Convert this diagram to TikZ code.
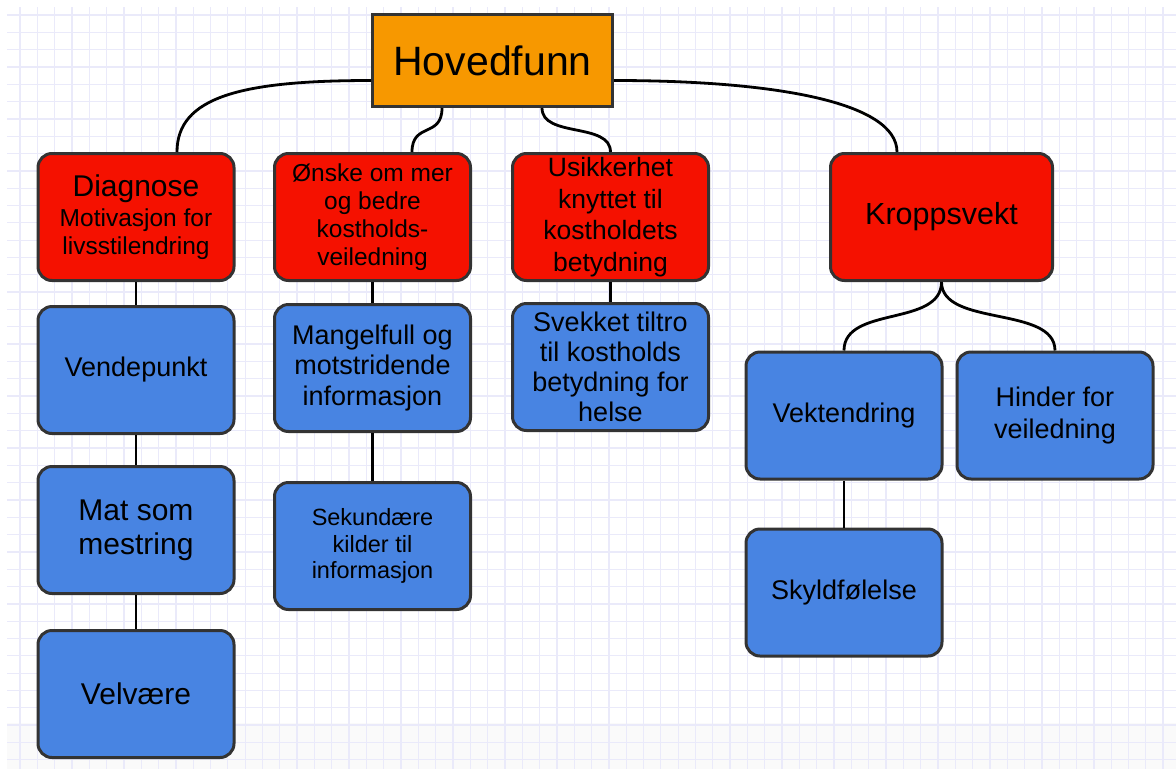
\documentclass[tikz,border=0pt]{standalone}
\usepackage{fontspec}
\setmainfont{Liberation Sans}
\usetikzlibrary{positioning}

\definecolor{hovedorange}{RGB}{247,152,0}
\definecolor{temarod}{RGB}{245,17,0}
\definecolor{funnbla}{RGB}{72,132,226}
\definecolor{kant}{RGB}{51,51,51}
\definecolor{rutenett}{RGB}{234,234,250}
\newcommand{\tsz}[2]{\fontsize{#1}{#2}\selectfont}

\tikzset{
  boks/.style={draw=kant, line width=3pt, rounded corners=14pt, align=center,
    inner sep=2pt, minimum width=196pt, minimum height=127pt},
  tema/.style={boks, fill=temarod},
  funn/.style={boks, fill=funnbla, font=\tsz{27}{31}},
  kobling/.style={line width=2.8pt, black}
}

\begin{document}
\begin{tikzpicture}[x=1pt,y=-1pt]
  \useasboundingbox (0,0) rectangle (1176,769);
  \fill[white] (0,0) rectangle (1176,769);
  \fill[black!2] (7,723) rectangle (1176,769);
  \foreach \gx in {0,...,66}
    \draw[rutenett, line width=1.3pt] ({20+17.32*\gx},7) -- ({20+17.32*\gx},769);
  \foreach \gy in {0,...,43}
    \draw[rutenett, line width=1.3pt] (7,{15+17.32*\gy}) -- (1176,{15+17.32*\gy});
  %
  \node[draw=kant, line width=3pt, fill=hovedorange, minimum width=240pt,
    minimum height=92pt, font=\tsz{41}{46}] (hoved) at (492.5,60.5) {Hovedfunn};
  %
  \node[tema, font=\tsz{24.5}{28}] (diag) at (136,217)
    {{\tsz{30}{31}Diagnose}\\[2pt]Motivasjon for\\livsstilendring};
  \node[tema, font=\tsz{24.5}{28}] (onske) at (372.5,217)
    {Ønske om mer\\og bedre\\kostholds-\\veiledning};
  \node[tema, font=\tsz{26.5}{31.5}] (usikker) at (610.5,217)
    {Usikkerhet\\knyttet til\\kostholdets\\betydning};
  \node[tema, minimum width=222pt, font=\tsz{30.5}{33}] (kropp) at (941.5,217) {Kroppsvekt};
  %
  \node[funn, below=23pt of diag] (vende) {Vendepunkt};
  \node[funn, below=30pt of vende, font=\tsz{30}{34}] (mat) {Mat som\\mestring};
  \node[funn, below=34pt of mat, font=\tsz{30}{34}] (velv) {Velvære};
  \node[funn, below=21pt of onske, font=\tsz{27}{30.5}] (mangel)
    {Mangelfull og\\motstridende\\informasjon};
  \node[funn, below=48pt of mangel, font=\tsz{23.5}{26.5}] (sekund)
    {Sekundære\\kilder til\\informasjon};
  \node[funn, below=20pt of usikker, font=\tsz{27}{30}] (svekk)
    {Svekket tiltro\\til kostholds\\betydning for\\helse};
  \node[funn] (vekt) at (844,415.5) {Vektendring};
  \node[funn, font=\tsz{27}{32}] (hinder) at (1055,415.5) {Hinder for\\veiledning};
  \node[funn, below=47pt of vekt] (skyld) {Skyldfølelse};
  %
  \draw[kobling] ([yshift=-20pt]hoved.west) .. controls +(-130,0) and +(0,-55) .. ([xshift=41pt]diag.north);
  \draw[kobling] ([yshift=-20pt]hoved.east) .. controls +(160,0) and +(0,-50) .. ([xshift=-44.5pt]kropp.north);
  \draw[kobling] ([xshift=-50.5pt]hoved.south) .. controls +(0,30) and +(0,-30) .. ([xshift=39.5pt]onske.north);
  \draw[kobling] ([xshift=49.5pt]hoved.south) .. controls +(0,30) and +(0,-30) .. (usikker.north);
  \draw[kobling] (kropp.south) .. controls +(0,45) and +(0,-45) .. (vekt.north);
  \draw[kobling] (kropp.south) .. controls +(0,45) and +(0,-45) .. (hinder.north);
  %
  \draw[kobling] (diag.south) -- (vende.north);
  \draw[kobling] (vende.south) -- (mat.north);
  \draw[kobling] (mat.south) -- (velv.north);
  \draw[kobling] (onske.south) -- (mangel.north);
  \draw[kobling] (mangel.south) -- (sekund.north);
  \draw[kobling] (usikker.south) -- (svekk.north);
  \draw[kobling] (vekt.south) -- (skyld.north);
\end{tikzpicture}
\end{document}
